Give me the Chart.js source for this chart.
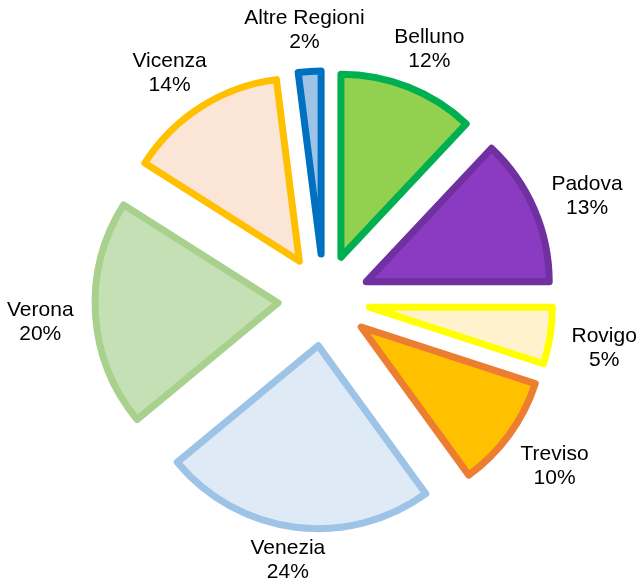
<!DOCTYPE html>
<html>
<head>
<meta charset="utf-8">
<script src="https://cdn.jsdelivr.net/npm/chart.js@4"></script>
<style>
  html, body { margin: 0; padding: 0; background: #fff; }
  #wrap { width: 636px; height: 581px; }
</style>
</head>
<body>
<div id="wrap"><canvas id="pie"></canvas></div>
<script>
const regions = ["Belluno", "Padova", "Rovigo", "Treviso", "Venezia", "Verona", "Vicenza", "Altre Regioni"];
const shares = [12, 13, 5, 10, 24, 20, 14, 2];
const fills = ["#92d050", "#8a3bc2", "#fff2cc", "#ffc000", "#deebf7", "#c5e0b4", "#fbe5d6", "#9dc3e6"];
const borders = ["#00b050", "#7030a0", "#ffff00", "#ed7d31", "#9dc3e6", "#a9d18e", "#ffc000", "#0070c0"];

const EXPLODE = 46;
const RADIUS = 183;

// push every slice out from the centre along its middle angle
const explodePlugin = {
  id: 'explode',
  afterDatasetsUpdate(chart) {
    chart.getDatasetMeta(0).data.forEach(arc => {
      const mid = (arc.startAngle + arc.endAngle) / 2;
      arc.x += Math.cos(mid) * EXPLODE;
      arc.y += Math.sin(mid) * EXPLODE;
    });
  }
};

// two-line labels outside each slice, kept inside the canvas
const labelPlugin = {
  id: 'outsideLabels',
  afterDatasetsDraw(chart) {
    const ctx = chart.ctx;
    ctx.save();
    ctx.font = '21px "Liberation Sans", Arial, sans-serif';
    ctx.fillStyle = '#000';
    ctx.textAlign = 'center';
    ctx.textBaseline = 'middle';
    const lh = 24;
    chart.getDatasetMeta(0).data.forEach((arc, i) => {
      const mid = (arc.startAngle + arc.endAngle) / 2;
      const c = Math.cos(mid), s = Math.sin(mid);
      const l1 = regions[i], l2 = shares[i] + '%';
      const w = Math.max(ctx.measureText(l1).width, ctx.measureText(l2).width);
      const h = lh * 2;
      const d = arc.outerRadius + 22;
      const ax = arc.x + c * d, ay = arc.y + s * d;
      const bx = ax + c * w / 2;
      const by = Math.min(ay + s * h / 2 + 5, chart.height - 21);
      ctx.fillText(l1, bx, by - lh / 2);
      ctx.fillText(l2, bx, by + lh / 2);
    });
    ctx.restore();
  }
};

new Chart(document.getElementById('pie'), {
  type: 'pie',
  data: {
    labels: regions,
    datasets: [{
      data: shares,
      backgroundColor: fills,
      borderColor: borders,
      borderWidth: 7,
      borderJoinStyle: 'round',
    }]
  },
  options: {
    responsive: true,
    maintainAspectRatio: false,
    animation: false,
    events: [],
    radius: RADIUS,
    layout: { padding: { left: 12, right: 0, top: 19, bottom: 0 } },
    plugins: {
      legend: { display: false },
      tooltip: { enabled: false },
    }
  },
  plugins: [explodePlugin, labelPlugin]
});
</script>
</body>
</html>
